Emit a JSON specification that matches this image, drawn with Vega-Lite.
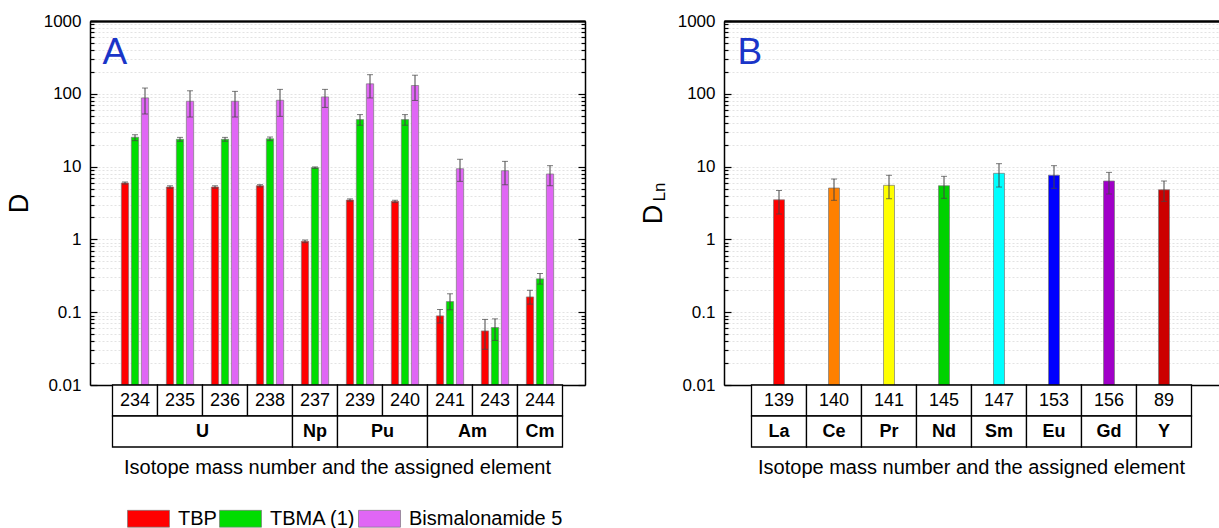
{
  "$schema": "https://vega.github.io/schema/vega-lite/v6.json",
  "background": "white",
  "padding": {"left": 5, "top": 12, "right": 0, "bottom": 0},
  "config": {
    "font": "Liberation Sans",
    "view": {"stroke": null},
    "axis": {"labelColor": "black", "titleColor": "black", "titleFontWeight": "normal"},
    "title": {"color": "black", "fontWeight": "normal", "fontSize": 20}
  },
  "datasets": {
    "A": [
      {"mass": "234", "series": "TBP", "D": 5.95, "lo": 5.75, "hi": 6.15},
      {"mass": "234", "series": "TBMA (1)", "D": 25.3, "lo": 22.7, "hi": 27.4},
      {"mass": "234", "series": "Bismalonamide 5", "D": 87.8, "lo": 52.8, "hi": 120},
      {"mass": "235", "series": "TBP", "D": 5.24, "lo": 5.05, "hi": 5.45},
      {"mass": "235", "series": "TBMA (1)", "D": 23.7, "lo": 22.3, "hi": 25.2},
      {"mass": "235", "series": "Bismalonamide 5", "D": 79, "lo": 48, "hi": 110},
      {"mass": "236", "series": "TBP", "D": 5.24, "lo": 5.05, "hi": 5.45},
      {"mass": "236", "series": "TBMA (1)", "D": 23.7, "lo": 22.3, "hi": 25.2},
      {"mass": "236", "series": "Bismalonamide 5", "D": 79, "lo": 48, "hi": 108},
      {"mass": "238", "series": "TBP", "D": 5.46, "lo": 5.25, "hi": 5.65},
      {"mass": "238", "series": "TBMA (1)", "D": 24.1, "lo": 22.7, "hi": 25.5},
      {"mass": "238", "series": "Bismalonamide 5", "D": 81.5, "lo": 49, "hi": 115},
      {"mass": "237", "series": "TBP", "D": 0.94, "lo": 0.9, "hi": 0.98},
      {"mass": "237", "series": "TBMA (1)", "D": 9.66, "lo": 9.45, "hi": 9.9},
      {"mass": "237", "series": "Bismalonamide 5", "D": 90.6, "lo": 65, "hi": 115},
      {"mass": "239", "series": "TBP", "D": 3.47, "lo": 3.35, "hi": 3.6},
      {"mass": "239", "series": "TBMA (1)", "D": 44.2, "lo": 37, "hi": 51.8},
      {"mass": "239", "series": "Bismalonamide 5", "D": 137, "lo": 87.8, "hi": 183},
      {"mass": "240", "series": "TBP", "D": 3.33, "lo": 3.2, "hi": 3.45},
      {"mass": "240", "series": "TBMA (1)", "D": 44.2, "lo": 37, "hi": 51.8},
      {"mass": "240", "series": "Bismalonamide 5", "D": 130, "lo": 81, "hi": 180},
      {"mass": "241", "series": "TBP", "D": 0.089, "lo": 0.071, "hi": 0.109},
      {"mass": "241", "series": "TBMA (1)", "D": 0.14, "lo": 0.108, "hi": 0.179},
      {"mass": "241", "series": "Bismalonamide 5", "D": 9.35, "lo": 6.27, "hi": 12.6},
      {"mass": "243", "series": "TBP", "D": 0.0553, "lo": 0.031, "hi": 0.0796},
      {"mass": "243", "series": "TBMA (1)", "D": 0.0616, "lo": 0.041, "hi": 0.081},
      {"mass": "243", "series": "Bismalonamide 5", "D": 8.78, "lo": 5.63, "hi": 11.8},
      {"mass": "244", "series": "TBP", "D": 0.162, "lo": 0.129, "hi": 0.2},
      {"mass": "244", "series": "TBMA (1)", "D": 0.287, "lo": 0.243, "hi": 0.34},
      {"mass": "244", "series": "Bismalonamide 5", "D": 7.91, "lo": 5.46, "hi": 10.3}
    ],
    "tabA": [
      {"mass": "234", "element": "U"}, {"mass": "235", "element": "U"}, {"mass": "236", "element": "U"},
      {"mass": "238", "element": "U"}, {"mass": "237", "element": "Np"}, {"mass": "239", "element": "Pu"},
      {"mass": "240", "element": "Pu"}, {"mass": "241", "element": "Am"}, {"mass": "243", "element": "Am"},
      {"mass": "244", "element": "Cm"}
    ],
    "elA": [
      {"element": "U", "first": "234", "last": "238", "mid": "236", "even": true},
      {"element": "Np", "first": "237", "last": "237", "mid": "237", "even": false},
      {"element": "Pu", "first": "239", "last": "240", "mid": "240", "even": true},
      {"element": "Am", "first": "241", "last": "243", "mid": "243", "even": true},
      {"element": "Cm", "first": "244", "last": "244", "mid": "244", "even": false}
    ],
    "B": [
      {"mass": "139", "element": "La", "D": 3.5, "lo": 2.23, "hi": 4.7},
      {"mass": "140", "element": "Ce", "D": 5.08, "lo": 3.44, "hi": 6.75},
      {"mass": "141", "element": "Pr", "D": 5.53, "lo": 3.62, "hi": 7.6},
      {"mass": "145", "element": "Nd", "D": 5.46, "lo": 3.66, "hi": 7.35},
      {"mass": "147", "element": "Sm", "D": 8.08, "lo": 5.24, "hi": 10.97},
      {"mass": "153", "element": "Eu", "D": 7.6, "lo": 5.03, "hi": 10.3},
      {"mass": "156", "element": "Gd", "D": 6.34, "lo": 4.2, "hi": 8.33},
      {"mass": "89", "element": "Y", "D": 4.81, "lo": 3.33, "hi": 6.34}
    ]
  },
  "hconcat": [
    {
      "spacing": 0,
      "bounds": "flush",
      "vconcat": [
        {
          "width": 495,
          "height": 364,
          "data": {"name": "A"},
          "encoding": {
            "x": {"field": "mass", "type": "nominal",
                  "axis": {"orient": "top", "title": null, "labels": false, "ticks": false, "grid": false, "domainColor": "black", "domainWidth": 1.5},
                  "scale": {"domain": ["234","235","236","238","237","239","240","241","243","244"], "paddingInner": 0, "paddingOuter": 0.5}}
          },
          "layer": [
            {
              "mark": {"type": "bar", "stroke": "#7a7a7a", "strokeWidth": 0.7},
              "encoding": {
                "xOffset": {"field": "series", "type": "nominal",
                  "scale": {"domain": ["TBP","TBMA (1)","Bismalonamide 5"], "paddingInner": 0.27, "paddingOuter": 0.885}},
                "y": {"field": "D", "type": "quantitative",
                      "scale": {"type": "log", "domain": [0.01, 1000]},
                      "axis": {
                        "orient": "left", "title": "D", "titleFontSize": 27, "titlePadding": 10,
                        "values": [0.01,0.02,0.03,0.04,0.05,0.06,0.07,0.08,0.09,0.1,0.2,0.3,0.4,0.5,0.6,0.7,0.8,0.9,1,2,3,4,5,6,7,8,9,10,20,30,40,50,60,70,80,90,100,200,300,400,500,600,700,800,900,1000],
                        "labelExpr": "abs(log(datum.value)/LN10 - round(log(datum.value)/LN10)) < 0.001 ? format(datum.value, '~g') : ''",
                        "labelFontSize": 17, "labelPadding": 16, "labelOverlap": false, "labelFlush": false,
                        "tickSize": {"condition": {"test": "abs(log(datum.value)/LN10 - round(log(datum.value)/LN10)) < 0.001", "value": -7}, "value": -4},
                        "tickColor": "black", "tickWidth": 1.2,
                        "domain": true, "domainColor": "black", "domainWidth": 1.5,
                        "grid": true, "gridColor": "#dcdcdc", "gridDash": [2, 2], "gridWidth": 0.8
                      }},
                "y2": {"datum": 0.01},
                "color": {"field": "series", "type": "nominal",
                          "scale": {"domain": ["TBP","TBMA (1)","Bismalonamide 5"], "range": ["#ff0000","#00dd00","#e066f5"]},
                          "legend": {"orient": "none", "legendX": 41, "legendY": 480, "direction": "horizontal", "title": null,
                                     "symbolType": "M-1.25,-0.5H1.25V0.5H-1.25Z", "symbolSize": 1129,
                                     "symbolStrokeColor": "#7a7a7a", "symbolStrokeWidth": 0.7, "symbolOpacity": 1,
                                     "labelFontSize": 20, "labelOffset": 12, "columnPadding": 1, "labelColor": "black"}}
              }
            },
            {
              "mark": {"type": "rule", "color": "#444444", "strokeWidth": 1},
              "encoding": {
                "x": {"field": "mass", "type": "nominal",
                      "axis": {"orient": "bottom", "title": null, "labels": false, "ticks": false, "grid": false, "domainColor": "black", "domainWidth": 1.5}},
                "y": {"field": "lo", "type": "quantitative",
                      "axis": {
                        "orient": "right", "title": null, "labels": false,
                        "values": [0.01,0.02,0.03,0.04,0.05,0.06,0.07,0.08,0.09,0.1,0.2,0.3,0.4,0.5,0.6,0.7,0.8,0.9,1,2,3,4,5,6,7,8,9,10,20,30,40,50,60,70,80,90,100,200,300,400,500,600,700,800,900,1000],
                        "tickSize": {"condition": {"test": "abs(log(datum.value)/LN10 - round(log(datum.value)/LN10)) < 0.001", "value": -7}, "value": -4},
                        "tickColor": "black", "tickWidth": 1.2,
                        "domain": true, "domainColor": "black", "domainWidth": 1.5, "grid": false
                      }},
                "y2": {"field": "hi"},
                "xOffset": {"field": "series", "type": "nominal"}
              }
            },
            {
              "mark": {"type": "tick", "color": "#444444", "size": 6, "thickness": 1},
              "encoding": {
                "y": {"field": "hi", "type": "quantitative", "axis": null},
                "xOffset": {"field": "series", "type": "nominal"}
              }
            },
            {
              "mark": {"type": "tick", "color": "#444444", "size": 6, "thickness": 1},
              "encoding": {
                "y": {"field": "lo", "type": "quantitative", "axis": null},
                "xOffset": {"field": "series", "type": "nominal"}
              }
            },
            {
              "data": {"values": [{}]},
              "mark": {"type": "text", "text": "A", "fontSize": 37, "color": "#1a35c8", "align": "left", "baseline": "alphabetic", "dx": -10},
              "encoding": {
                "x": {"datum": "234", "type": "nominal", "bandPosition": 0},
                "y": {"datum": 258, "type": "quantitative", "axis": null}
              }
            }
          ],
          "resolve": {"axis": {"y": "independent", "x": "independent"}}
        },
        {
          "width": 495,
          "height": 62,
          "title": {"text": "Isotope mass number and the assigned element", "orient": "bottom", "anchor": "middle", "offset": 10, "fontSize": 20, "fontWeight": "normal", "color": "black"},
          "layer": [
            {
              "data": {"name": "tabA"},
              "mark": {"type": "rect", "fill": "white", "stroke": "black", "strokeWidth": 1.3},
              "encoding": {
                "x": {"field": "mass", "type": "nominal",
                      "scale": {"domain": ["234","235","236","238","237","239","240","241","243","244"], "paddingInner": 0, "paddingOuter": 0.5},
                      "axis": null},
                "y": {"datum": "num", "type": "nominal", "scale": {"domain": ["num","el"], "paddingInner": 0, "paddingOuter": 0}, "axis": null}
              }
            },
            {
              "data": {"name": "tabA"},
              "mark": {"type": "text", "fontSize": 18, "color": "black"},
              "encoding": {
                "x": {"field": "mass", "type": "nominal", "axis": null},
                "y": {"datum": "num", "type": "nominal", "axis": null},
                "text": {"field": "mass"}
              }
            },
            {
              "data": {"name": "elA"},
              "mark": {"type": "rect", "fill": "white", "stroke": "black", "strokeWidth": 1.3},
              "encoding": {
                "x": {"field": "first", "type": "nominal", "bandPosition": 0, "axis": null},
                "x2": {"field": "last", "bandPosition": 1},
                "y": {"datum": "el", "type": "nominal", "axis": null}
              }
            },
            {
              "data": {"name": "elA"},
              "transform": [{"filter": "datum.even"}],
              "mark": {"type": "text", "fontSize": 18, "fontWeight": "bold", "color": "black"},
              "encoding": {
                "x": {"field": "mid", "type": "nominal", "bandPosition": 0, "axis": null},
                "y": {"datum": "el", "type": "nominal", "axis": null},
                "text": {"field": "element"}
              }
            },
            {
              "data": {"name": "elA"},
              "transform": [{"filter": "!datum.even"}],
              "mark": {"type": "text", "fontSize": 18, "fontWeight": "bold", "color": "black"},
              "encoding": {
                "x": {"field": "mid", "type": "nominal", "axis": null},
                "y": {"datum": "el", "type": "nominal", "axis": null},
                "text": {"field": "element"}
              }
            }
          ]
        }
      ]
    },
    {
      "spacing": 0,
      "bounds": "flush",
      "vconcat": [
        {
          "width": 495,
          "height": 364,
          "data": {"name": "B"},
          "encoding": {
            "x": {"field": "mass", "type": "nominal",
                  "axis": {"orient": "top", "title": null, "labels": false, "ticks": false, "grid": false, "domainColor": "black", "domainWidth": 1.5},
                  "scale": {"domain": ["139","140","141","145","147","153","156","89"], "paddingInner": 0, "paddingOuter": 0.5}}
          },
          "layer": [
            {
              "mark": {"type": "bar", "stroke": "#7a7a7a", "strokeWidth": 0.7, "width": {"band": 0.2}},
              "encoding": {
                "y": {"field": "D", "type": "quantitative",
                      "scale": {"type": "log", "domain": [0.01, 1000]},
                      "axis": {
                        "orient": "left", "title": "D", "titleFontSize": 27, "titlePadding": 10, "titleY": 193,
                        "values": [0.01,0.02,0.03,0.04,0.05,0.06,0.07,0.08,0.09,0.1,0.2,0.3,0.4,0.5,0.6,0.7,0.8,0.9,1,2,3,4,5,6,7,8,9,10,20,30,40,50,60,70,80,90,100,200,300,400,500,600,700,800,900,1000],
                        "labelExpr": "abs(log(datum.value)/LN10 - round(log(datum.value)/LN10)) < 0.001 ? format(datum.value, '~g') : ''",
                        "labelFontSize": 17, "labelPadding": 16, "labelOverlap": false, "labelFlush": false,
                        "tickSize": {"condition": {"test": "abs(log(datum.value)/LN10 - round(log(datum.value)/LN10)) < 0.001", "value": -7}, "value": -4},
                        "tickColor": "black", "tickWidth": 1.2,
                        "domain": true, "domainColor": "black", "domainWidth": 1.5,
                        "grid": true, "gridColor": "#dcdcdc", "gridDash": [2, 2], "gridWidth": 0.8
                      }},
                "y2": {"datum": 0.01},
                "color": {"field": "element", "type": "nominal", "legend": null,
                          "scale": {"domain": ["La","Ce","Pr","Nd","Sm","Eu","Gd","Y"],
                                    "range": ["#ff0000","#ff8000","#ffff00","#00d200","#00ffff","#0000ff","#a000c8","#cc0000"]}}
              }
            },
            {
              "mark": {"type": "rule", "color": "#444444", "strokeWidth": 1},
              "encoding": {
                "x": {"field": "mass", "type": "nominal",
                      "axis": {"orient": "bottom", "title": null, "labels": false, "ticks": false, "grid": false, "domainColor": "black", "domainWidth": 1.5}},
                "y": {"field": "lo", "type": "quantitative", "axis": null},
                "y2": {"field": "hi"}
              }
            },
            {
              "mark": {"type": "tick", "color": "#444444", "size": 6, "thickness": 1},
              "encoding": {"y": {"field": "hi", "type": "quantitative", "axis": null}}
            },
            {
              "mark": {"type": "tick", "color": "#444444", "size": 6, "thickness": 1},
              "encoding": {"y": {"field": "lo", "type": "quantitative", "axis": null}}
            },
            {
              "data": {"values": [{}]},
              "mark": {"type": "text", "text": "B", "fontSize": 37, "color": "#1a35c8", "align": "left", "baseline": "alphabetic", "dx": -14},
              "encoding": {
                "x": {"datum": "139", "type": "nominal", "bandPosition": 0},
                "y": {"datum": 258, "type": "quantitative", "axis": null}
              }
            },
            {
              "data": {"values": [{}]},
              "mark": {"type": "text", "text": "Ln", "fontSize": 17, "color": "black", "align": "center", "baseline": "middle", "angle": 270, "dy": -92},
              "encoding": {
                "x": {"datum": "139", "type": "nominal", "bandPosition": 0},
                "y": {"datum": 4.47, "type": "quantitative", "axis": null}
              }
            }
          ],
          "resolve": {"axis": {"y": "independent", "x": "independent"}}
        },
        {
          "width": 495,
          "height": 62,
          "data": {"name": "B"},
          "title": {"text": "Isotope mass number and the assigned element", "orient": "bottom", "anchor": "middle", "offset": 10, "fontSize": 20, "fontWeight": "normal", "color": "black"},
          "layer": [
            {
              "mark": {"type": "rect", "fill": "white", "stroke": "black", "strokeWidth": 1.3},
              "encoding": {
                "x": {"field": "mass", "type": "nominal",
                      "scale": {"domain": ["139","140","141","145","147","153","156","89"], "paddingInner": 0, "paddingOuter": 0.5},
                      "axis": null},
                "y": {"datum": "num", "type": "nominal", "scale": {"domain": ["num","el"], "paddingInner": 0, "paddingOuter": 0}, "axis": null}
              }
            },
            {
              "mark": {"type": "rect", "fill": "white", "stroke": "black", "strokeWidth": 1.3},
              "encoding": {
                "x": {"field": "mass", "type": "nominal", "axis": null},
                "y": {"datum": "el", "type": "nominal", "axis": null}
              }
            },
            {
              "mark": {"type": "text", "fontSize": 18, "color": "black"},
              "encoding": {
                "x": {"field": "mass", "type": "nominal", "axis": null},
                "y": {"datum": "num", "type": "nominal", "axis": null},
                "text": {"field": "mass"}
              }
            },
            {
              "mark": {"type": "text", "fontSize": 18, "fontWeight": "bold", "color": "black"},
              "encoding": {
                "x": {"field": "mass", "type": "nominal", "axis": null},
                "y": {"datum": "el", "type": "nominal", "axis": null},
                "text": {"field": "element"}
              }
            }
          ]
        }
      ]
    }
  ],
  "spacing": 53,
  "resolve": {"scale": {"color": "independent"}}
}
